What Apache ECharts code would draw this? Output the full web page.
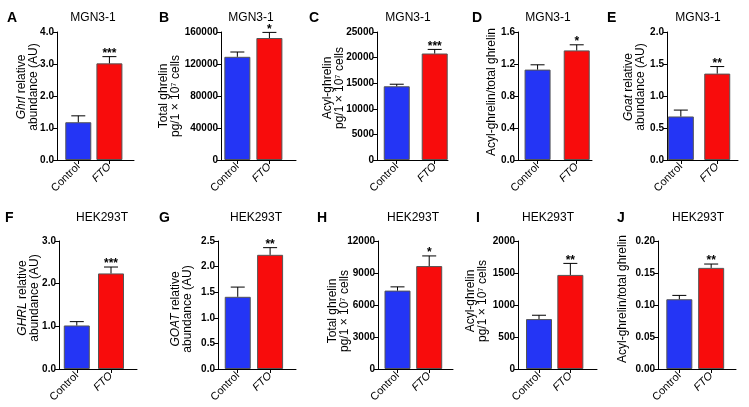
<!DOCTYPE html>
<html><head><meta charset="utf-8">
<script src="https://cdn.jsdelivr.net/npm/echarts@6/dist/echarts.min.js"></script>
<style>html,body{margin:0;padding:0;background:#fff}#c{width:749px;height:407px}</style>
</head><body><div id="c"></div>
<script>
// ---- data ----
const categories = ['Control', 'FTO'];
const panelLetters = ['A','B','C','D','E','F','G','H','I','J'];
const panelTitles = ['MGN3-1','MGN3-1','MGN3-1','MGN3-1','MGN3-1','HEK293T','HEK293T','HEK293T','HEK293T','HEK293T'];
const yNames = [
  '{i|Ghrl} relative\nabundance (AU)',
  'Total ghrelin\npg/1 × 10⁷ cells',
  'Acyl-ghrelin\npg/1 × 10⁷ cells',
  'Acyl-ghrelin/total ghrelin',
  '{i|Goat} relative\nabundance (AU)',
  '{i|GHRL} relative\nabundance (AU)',
  '{i|GOAT} relative\nabundance (AU)',
  'Total ghrelin\npg/1 × 10⁷ cells',
  'Acyl-ghrelin\npg/1 × 10⁷ cells',
  'Acyl-ghrelin/total ghrelin'
];
const controlMean  = [1.18, 129000, 14400, 1.13, 0.68, 1.02, 1.41, 7350, 780, 0.109];
const controlUpper = [1.38, 135000, 14800, 1.19, 0.78, 1.11, 1.60, 7700, 840, 0.115];
const ftoMean      = [3.02, 152500, 20800, 1.37, 1.35, 2.24, 2.23, 9650, 1470, 0.158];
const ftoUpper     = [3.23, 159500, 21600, 1.44, 1.46, 2.39, 2.37, 10600, 1650, 0.164];
const stars        = ['***', '*', '***', '*', '**', '***', '**', '*', '**', '**'];
const yMax         = [4, 160000, 25000, 1.6, 2, 3, 2.5, 12000, 2000, 0.2];
const yInterval    = [1, 40000, 5000, 0.4, 0.5, 1, 0.5, 3000, 500, 0.05];
const yDecimals    = [1, 0, 0, 1, 1, 1, 1, 0, 0, 2];

// ---- layout (style, not data) ----
const FONT = '"Liberation Sans", Arial, Helvetica, sans-serif';
const gridLeft  = [57, 221, 377, 518, 667, 59, 218, 378, 518, 658];
const gridRight = [134, 296, 448, 592, 738, 137, 296, 453, 597, 736];
const rowTop = [32, 241];
const plotH = 128;
const xMin = [0.316, 0.49, 0.48, 0.50, 0.62, 0.48, 0.39, 0.385, 0.33, 0.33];
const xMax = [2.79, 2.83, 2.35, 2.39, 2.57, 2.76, 2.80, 2.75, 2.85, 2.78];
const nameGap = [17, 39, 31, 20, 20, 18, 24, 27, 29, 29];
const nameShift = [9, 0, 8, 4, 9, 7, -4, -6, 4, 6];
const titleX = [93, 251, 408, 548, 698, 102, 256, 413, 548, 698];
const letterX = [7, 159, 309, 472, 607, 5, 159, 317, 476, 617];
const barColors = ['#2435f5', '#f80c0c'];

const grids = [], xAxes = [], yAxes = [], series = [], titles = [];
for (let i = 0; i < 10; i++) {
  const row = i < 5 ? 0 : 1;
  grids.push({left: gridLeft[i], top: rowTop[row], width: gridRight[i] - gridLeft[i], height: plotH, containLabel: false});
  xAxes.push({
    type: 'value', gridIndex: i, min: xMin[i], max: xMax[i],
    axisLine: {show: true, lineStyle: {color: '#000', width: 1}},
    axisTick: {show: true, customValues: [1, 2], length: 4, lineStyle: {color: '#000'}},
    splitLine: {show: false},
    axisLabel: {
      customValues: [1, 2], rotate: 45, margin: 5, fontSize: 11, color: '#000', fontFamily: FONT,
      formatter: v => (Math.round(v) === 2 ? '{i|' + categories[1] + '}' : categories[0]),
      rich: {i: {fontStyle: 'italic', fontSize: 11, color: '#000', fontFamily: FONT}}
    }
  });
  const sh = nameShift[i];
  yAxes.push({
    type: 'value', gridIndex: i, min: 0, max: yMax[i], interval: yInterval[i],
    axisLine: {show: true, lineStyle: {color: '#000', width: 1}},
    axisTick: {show: true, length: 4, lineStyle: {color: '#000'}},
    splitLine: {show: false},
    axisLabel: {fontSize: 10, fontWeight: 'bold', color: '#000', margin: 3, fontFamily: FONT,
      formatter: v => v.toFixed(yDecimals[i])},
    name: yNames[i], nameLocation: 'middle', nameGap: nameGap[i], nameMoveOverlap: false,
    nameTextStyle: {fontSize: 12, color: '#000', fontFamily: FONT, lineHeight: 12,
      padding: sh >= 0 ? [0, 0, 0, 2 * sh] : [0, -2 * sh, 0, 0],
      rich: {i: {fontStyle: 'italic', fontSize: 12, color: '#000', fontFamily: FONT}}}
  });
  series.push({
    type: 'bar', xAxisIndex: i, yAxisIndex: i, barWidth: 26,
    data: [
      {value: [1, controlMean[i]], itemStyle: {color: barColors[0]}},
      {value: [2, ftoMean[i]], itemStyle: {color: barColors[1]}}
    ],
    itemStyle: {borderColor: '#555', borderWidth: 1},
    silent: true
  });
  const idx = i;
  series.push({
    type: 'custom', xAxisIndex: i, yAxisIndex: i, silent: true, z: 5,
    data: [[1, controlMean[i], controlUpper[i]], [2, ftoMean[i], ftoUpper[i]]],
    renderItem: function (params, api) {
      const x = api.value(0);
      const p0 = api.coord([x, api.value(1)]);
      const p1 = api.coord([x, api.value(2)]);
      const children = [
        {type: 'line', shape: {x1: p0[0], y1: p0[1], x2: p1[0], y2: p1[1]}, style: {stroke: '#000', lineWidth: 1}},
        {type: 'line', shape: {x1: p1[0] - 7, y1: p1[1], x2: p1[0] + 7, y2: p1[1]}, style: {stroke: '#000', lineWidth: 1}}
      ];
      if (params.dataIndex === 1) {
        children.push({type: 'text', x: p1[0], y: p1[1] + 3,
          style: {text: stars[idx], fill: '#000', font: 'bold 12px ' + FONT, textAlign: 'center', textVerticalAlign: 'bottom'}});
      }
      return {type: 'group', children: children};
    }
  });
  titles.push({text: panelTitles[i], left: titleX[i], top: row === 0 ? 12 : 212, textAlign: 'center', padding: 0,
    textStyle: {fontSize: 12, fontWeight: 'normal', color: '#000', fontFamily: FONT}});
  titles.push({text: panelLetters[i], left: letterX[i], top: row === 0 ? 11 : 211, padding: 0,
    textStyle: {fontSize: 14, fontWeight: 'bold', color: '#000', fontFamily: FONT}});
}

const chart = echarts.init(document.getElementById('c'), null, {renderer: 'canvas'});
chart.setOption({
  animation: false,
  backgroundColor: '#fff',
  title: titles,
  grid: grids,
  xAxis: xAxes,
  yAxis: yAxes,
  series: series
});
</script>
</body></html>
